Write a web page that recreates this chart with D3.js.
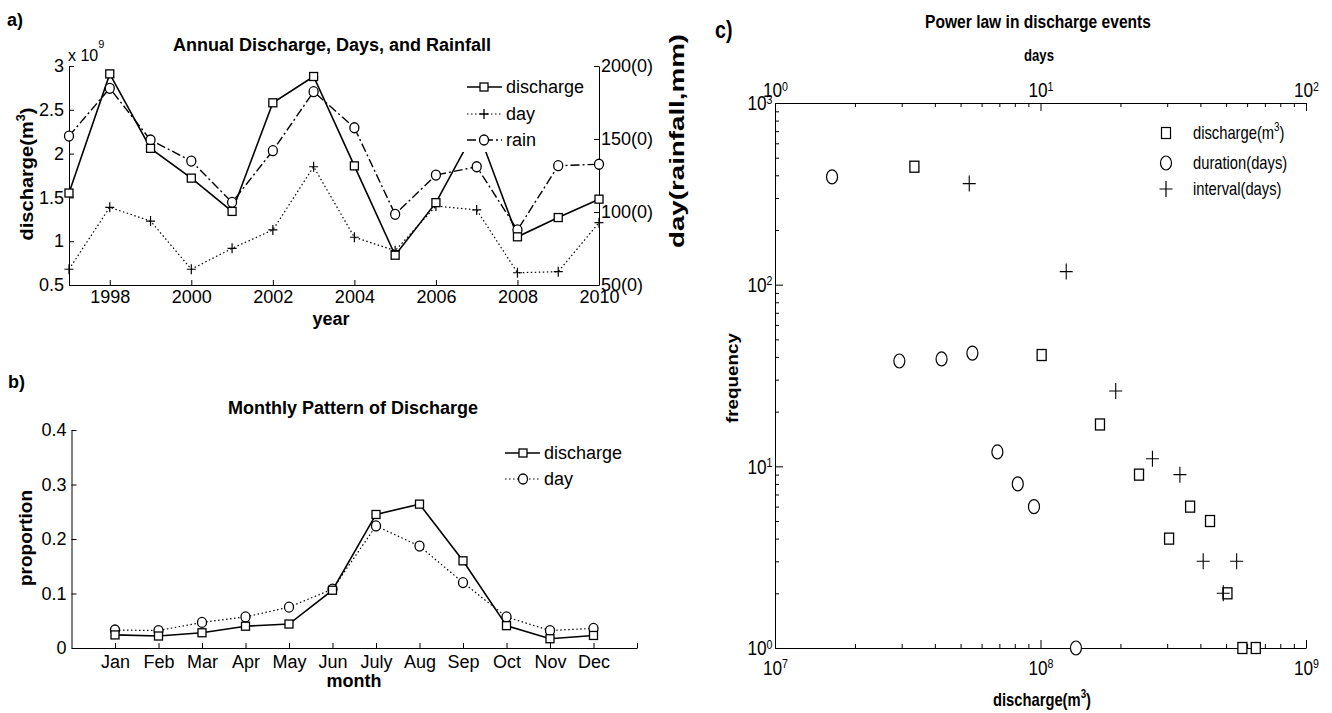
<!DOCTYPE html>
<html>
<head>
<meta charset="utf-8">
<script src="https://cdn.jsdelivr.net/npm/d3@7"></script>
<style>
    body { margin: 0; background: #fff; }
    svg text { fill: #000; }
</style>
</head>
<body>
<svg id="fig" width="1332" height="713"></svg>
<script>
const SANS = '"Liberation Sans", Arial, sans-serif';
const NARROW_X = 0.82;   // Arial Narrow look: Liberation Sans squeezed horizontally

// ---- a) annual discharge, days and rainfall ----
const years = [1997, 1998, 1999, 2000, 2001, 2002, 2003, 2004, 2005, 2006, 2007, 2008, 2009, 2010];
const annualDischarge = [1.55, 2.91, 2.06, 1.72, 1.34, 2.58, 2.88, 1.86, 0.84, 1.44, 2.3, 1.05, 1.27, 1.48]; // x 10^9 m3
const annualDay = [60.8, 103.2, 93.8, 60.8, 75.1, 87.7, 131, 82.7, 73.5, 104.1, 101.4, 58.4, 59.1, 92.7];
const annualRain = [152, 184.7, 149.3, 134.9, 106.6, 142, 182.4, 157.7, 98.4, 125.3, 131, 87.7, 131.7, 132.7]; // x 10 mm
const yearTicks = [1998, 2000, 2002, 2004, 2006, 2008, 2010];
const dischargeTicks = [0.5, 1, 1.5, 2, 2.5, 3];
const dayTicks = [50, 100, 150, 200];

// ---- b) monthly pattern ----
const months = ["Jan", "Feb", "Mar", "Apr", "May", "Jun", "July", "Aug", "Sep", "Oct", "Nov", "Dec"];
const monthlyDischarge = [0.024, 0.022, 0.028, 0.040, 0.044, 0.106, 0.245, 0.264, 0.160, 0.041, 0.017, 0.023];
const monthlyDay = [0.033, 0.032, 0.047, 0.057, 0.075, 0.108, 0.224, 0.187, 0.120, 0.057, 0.032, 0.036];
const proportionTicks = [0, 0.1, 0.2, 0.3, 0.4];

// ---- c) power law ----
const eventDischarge = [3.35e7, 1.01e8, 1.675e8, 2.35e8, 3.66e8, 4.35e8, 3.05e8, 5.06e8, 5.76e8, 6.47e8];
const eventDischargeFreq = [446, 41, 17, 9, 6, 5, 4, 2, 1, 1];
const durationDays = [1.64, 2.94, 4.24, 5.54, 6.88, 8.21, 9.45, 13.6];
const durationFreq = [392, 38, 39, 42, 12, 8, 6, 1];
const intervalDays = [5.39, 12.5, 19.2, 26.4, 33.5, 41, 54.8, 48.8];
const intervalFreq = [360, 118, 26, 11, 9, 3, 3, 2];

const svg = d3.select("#fig");

// draw an open marker centred at 0,0 inside g
function drawMarker(g, type, w, h, sw) {
    if (type === "square") {
        g.append("rect").attr("x", -w / 2).attr("y", -h / 2).attr("width", w).attr("height", h)
            .attr("fill", "#fff").attr("stroke", "#000").attr("stroke-width", sw);
    } else if (type === "circle") {
        g.append("ellipse").attr("rx", w / 2).attr("ry", h / 2)
            .attr("fill", "#fff").attr("stroke", "#000").attr("stroke-width", sw);
    } else {
        g.append("path").attr("d", `M${-w / 2},0H${w / 2}M0,${-h / 2}V${h / 2}`)
            .attr("stroke", "#000").attr("stroke-width", sw).attr("fill", "none");
    }
}

function styleAxis(g, size) {
    g.attr("font-family", SANS).attr("font-size", size);
    g.selectAll("path,line").attr("stroke", "#000").attr("stroke-width", 1);
}

// text helper; narrow = squeeze horizontally, rotate = read bottom to top
function label(parent, text, x, y, opts) {
    let tf = `translate(${x},${y})`;
    if (opts.rotate) tf += " rotate(-90)";
    if (opts.narrow) tf += ` scale(${NARROW_X},1)`;
    return parent.append("text").attr("transform", tf)
        .attr("font-family", SANS)
        .attr("font-size", opts.size || 18)
        .attr("font-weight", opts.bold ? "bold" : "normal")
        .attr("text-anchor", opts.anchor || "middle")
        .text(text);
}

function addSup(t, sup, size, rise, after) {
    t.append("tspan").attr("dy", -rise).attr("font-size", size).text(sup);
    if (after) t.append("tspan").attr("dy", rise).text(after);
}

// ======================= panel a =======================
const xA = d3.scaleLinear().domain([1997, 2010]).range([69, 599]);
const yA = d3.scaleLinear().domain([0.5, 3]).range([285, 66]);
const yA2 = d3.scaleLinear().domain([50, 200]).range([285, 66]);
const gA = svg.append("g");

gA.append("g").attr("transform", "translate(0,285)")
    .call(d3.axisBottom(xA).tickValues(yearTicks).tickFormat(d3.format("d")).tickSize(-5).tickSizeOuter(0).tickPadding(5))
    .call(g => styleAxis(g, 18));
gA.append("g").attr("transform", "translate(69,0)")
    .call(d3.axisLeft(yA).tickValues(dischargeTicks).tickFormat(d => d).tickSize(-5).tickSizeOuter(0).tickPadding(5))
    .call(g => styleAxis(g, 18));
gA.append("g").attr("transform", "translate(599,0)")
    .call(d3.axisRight(yA2).tickValues(dayTicks).tickFormat(d => d + "(0)").tickSize(-5).tickSizeOuter(0).tickPadding(2))
    .call(g => styleAxis(g, 18));

const lineDis = d3.line().x((d, i) => xA(years[i])).y(d => yA(d));
const lineRight = d3.line().x((d, i) => xA(years[i])).y(d => yA2(d));

gA.append("path").attr("d", lineRight(annualDay)).attr("fill", "none").attr("stroke", "#000")
    .attr("stroke-width", 1.2).attr("stroke-dasharray", "1.5,2.5");
gA.append("path").attr("d", lineRight(annualRain)).attr("fill", "none").attr("stroke", "#000")
    .attr("stroke-width", 1.4).attr("stroke-dasharray", "9,3,2,3");
gA.append("path").attr("d", lineDis(annualDischarge)).attr("fill", "none").attr("stroke", "#000")
    .attr("stroke-width", 1.6);

annualDay.forEach((v, i) => drawMarker(gA.append("g").attr("transform", `translate(${xA(years[i])},${yA2(v)})`), "plus", 9, 10, 1.2));
annualRain.forEach((v, i) => drawMarker(gA.append("g").attr("transform", `translate(${xA(years[i])},${yA2(v)})`), "circle", 9, 10, 1.3));
annualDischarge.forEach((v, i) => drawMarker(gA.append("g").attr("transform", `translate(${xA(years[i])},${yA(v)})`), "square", 8, 8, 1.3));

// legend a (white box hides the 2007 peak)
const legA = gA.append("g");
legA.append("rect").attr("x", 462).attr("y", 68).attr("width", 132).attr("height", 84).attr("fill", "#fff");
[["discharge", "square", null, 1.6, 93], ["day", "plus", "1.5,2.5", 1.2, 120], ["rain", "circle", "9,3,2,3", 1.4, 146]]
    .forEach(([name, type, dash, sw, y]) => {
        legA.append("line").attr("x1", 467).attr("x2", 502).attr("y1", y - 6).attr("y2", y - 6)
            .attr("stroke", "#000").attr("stroke-width", sw).attr("stroke-dasharray", dash);
        drawMarker(legA.append("g").attr("transform", `translate(484,${y - 6})`), type, type === "square" ? 8 : 9, type === "square" ? 8 : 10, 1.3);
        label(legA, name, 506, y, { anchor: "start" });
    });

label(gA, "a)", 7, 26, { bold: true, anchor: "start" });
label(gA, "Annual Discharge, Days, and Rainfall", 332, 51, { bold: true });
label(gA, "year", 331, 325, { bold: true });
addSup(label(gA, "x 10", 68, 61, { size: 16, anchor: "start" }), "9", 11, 13);
addSup(label(gA, "discharge(m", 33, 174, { bold: true, rotate: true, size: 19 })
    .attr("textLength", 133).attr("lengthAdjust", "spacingAndGlyphs"), "3", 12, 8, ")");
label(gA, "day(rainfall,mm)", 684, 141, { bold: true, rotate: true, size: 21 })
    .attr("textLength", 214).attr("lengthAdjust", "spacingAndGlyphs");

// ======================= panel b =======================
const xB = d3.scaleLinear().domain([0, 13]).range([71.5, 637]);
const yB = d3.scaleLinear().domain([0, 0.4]).range([648, 430]);
const gB = svg.append("g");

gB.append("g").attr("transform", "translate(0,648)")
    .call(d3.axisBottom(xB).tickValues(d3.range(1, 14)).tickFormat(d => months[d - 1] || "").tickSize(-5).tickSizeOuter(0).tickPadding(7))
    .call(g => styleAxis(g, 18));
gB.append("g").attr("transform", "translate(71.5,0)")
    .call(d3.axisLeft(yB).tickValues(proportionTicks).tickFormat(d => d === 0 ? "0" : d.toFixed(1)).tickSize(-5).tickSizeOuter(0).tickPadding(5))
    .call(g => styleAxis(g, 18));

const lineB = d3.line().x((d, i) => xB(i + 1)).y(d => yB(d));
gB.append("path").attr("d", lineB(monthlyDay)).attr("fill", "none").attr("stroke", "#000")
    .attr("stroke-width", 1.2).attr("stroke-dasharray", "1.5,2.5");
gB.append("path").attr("d", lineB(monthlyDischarge)).attr("fill", "none").attr("stroke", "#000")
    .attr("stroke-width", 1.6);
monthlyDay.forEach((v, i) => drawMarker(gB.append("g").attr("transform", `translate(${xB(i + 1)},${yB(v)})`), "circle", 9, 10, 1.3));
monthlyDischarge.forEach((v, i) => drawMarker(gB.append("g").attr("transform", `translate(${xB(i + 1)},${yB(v)})`), "square", 8, 8, 1.3));

const legB = gB.append("g");
[["discharge", "square", null, 1.6, 459], ["day", "circle", "1.5,2.5", 1.2, 485]]
    .forEach(([name, type, dash, sw, y]) => {
        legB.append("line").attr("x1", 505).attr("x2", 540).attr("y1", y - 6).attr("y2", y - 6)
            .attr("stroke", "#000").attr("stroke-width", sw).attr("stroke-dasharray", dash);
        drawMarker(legB.append("g").attr("transform", `translate(523,${y - 6})`), type, type === "square" ? 8 : 9, type === "square" ? 8 : 10, 1.3);
        label(legB, name, 544, y, { anchor: "start" });
    });

label(gB, "b)", 8, 388, { bold: true, anchor: "start" });
label(gB, "Monthly Pattern of Discharge", 353, 414, { bold: true });
label(gB, "month", 354, 687, { bold: true });
label(gB, "proportion", 32, 538, { bold: true, rotate: true, size: 19 });

// ======================= panel c =======================
const xC = d3.scaleLog().domain([1e7, 1e9]).range([775, 1306]);
const xCt = d3.scaleLog().domain([1, 100]).range([775, 1306]);
const yC = d3.scaleLog().domain([1, 1000]).range([648, 103]);
const gC = svg.append("g");

const isDecade = v => Math.abs(Math.log10(v) - Math.round(Math.log10(v))) < 1e-9;
function powFormat(sel) {
    sel.selectAll(".tick text").each(function (d) {
        const t = d3.select(this);
        t.attr("transform", `scale(${NARROW_X},1)`).text("10");
        t.append("tspan").attr("dy", "-0.5em").attr("font-size", 13).text(Math.round(Math.log10(d)));
    });
}

function logAxis(axisFn, scale, tf, pad) {
    const g = gC.append("g").attr("transform", tf);
    g.call(axisFn(scale).tickValues(scale.ticks().filter(d => !isDecade(d))).tickFormat("").tickSize(-4).tickSizeOuter(0))
        .call(s => styleAxis(s, 21));
    g.append("g")
        .call(axisFn(scale).tickValues(scale.ticks().filter(isDecade)).tickSize(-8).tickSizeOuter(0).tickPadding(pad))
        .call(s => styleAxis(s, 21))
        .call(powFormat)
        .call(s => s.select(".domain").remove());
    return g;
}
logAxis(d3.axisBottom, xC, "translate(0,648)", 12);
logAxis(d3.axisTop, xCt, "translate(0,103)", 6);
logAxis(d3.axisLeft, yC, "translate(775,0)", 3);

eventDischarge.forEach((v, i) => drawMarker(gC.append("g").attr("transform", `translate(${xC(v)},${yC(eventDischargeFreq[i])})`), "square", 9, 11, 1.3));
durationDays.forEach((v, i) => drawMarker(gC.append("g").attr("transform", `translate(${xCt(v)},${yC(durationFreq[i])})`), "circle", 11, 14, 1.2));
intervalDays.forEach((v, i) => drawMarker(gC.append("g").attr("transform", `translate(${xCt(v)},${yC(intervalFreq[i])})`), "plus", 13, 16, 1.1));

const legC = gC.append("g");
[["discharge(m", "square", 133], ["duration(days)", "circle", 163], ["interval(days)", "plus", 189]]
    .forEach(([name, type, y]) => {
        drawMarker(legC.append("g").attr("transform", `translate(1166,${y})`), type,
            type === "square" ? 9 : (type === "circle" ? 11 : 13), type === "square" ? 11 : (type === "circle" ? 14 : 16), 1.2);
        const t = label(legC, name, 1193, y + 6, { narrow: true, anchor: "start" });
        if (type === "square") addSup(t, "3", 12, 8, ")");
    });

label(gC, "c)", 715, 38, { narrow: true, bold: true, size: 24, anchor: "start" });
label(gC, "Power law in discharge events", 1038, 28, { narrow: true, bold: true, size: 19 });
label(gC, "days", 1039, 61, { narrow: true, bold: true, size: 16 });
addSup(label(gC, "discharge(m", 1042, 706, { narrow: true, bold: true, size: 18 }), "3", 12, 8, ")");
label(gC, "frequency", 738, 378, { bold: true, size: 16, rotate: true })
    .attr("textLength", 90).attr("lengthAdjust", "spacingAndGlyphs");
</script>
</body>
</html>
